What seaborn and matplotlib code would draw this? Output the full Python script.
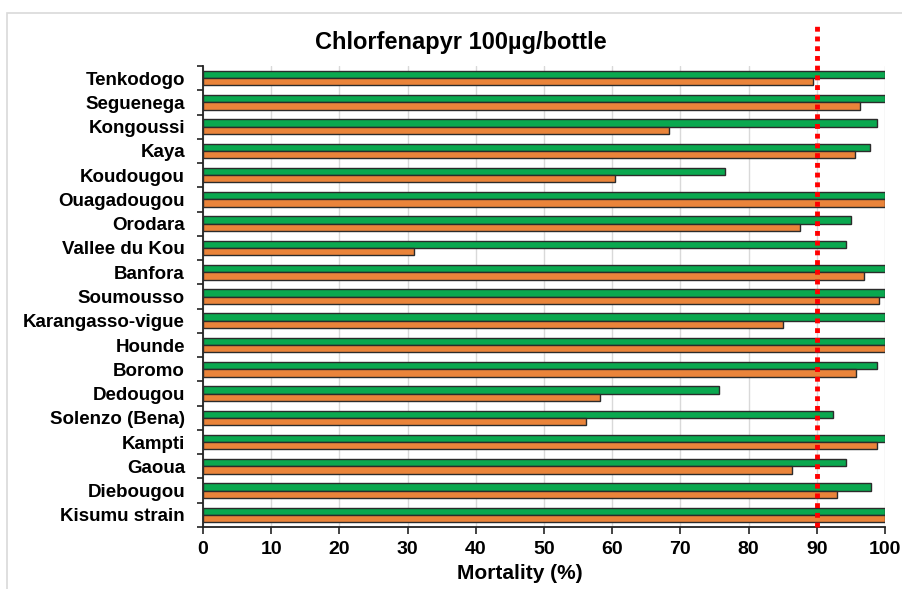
import matplotlib
matplotlib.use("Agg")
import matplotlib.pyplot as plt
import seaborn as sns
import pandas as pd
from matplotlib.patches import Rectangle
from matplotlib.ticker import FixedLocator

sites = ["Tenkodogo", "Seguenega", "Kongoussi", "Kaya", "Koudougou", "Ouagadougou",
         "Orodara", "Vallee du Kou", "Banfora", "Soumousso", "Karangasso-vigue",
         "Hounde", "Boromo", "Dedougou", "Solenzo (Bena)", "Kampti", "Gaoua",
         "Diebougou", "Kisumu strain"]
green_vals = [100, 100, 98.9, 97.8, 76.6, 100, 95.0, 94.3, 100, 100, 100,
              100, 98.9, 75.6, 92.4, 100, 94.3, 97.9, 100]
orange_vals = [89.4, 96.3, 68.3, 95.6, 60.4, 100, 87.5, 30.9, 96.9, 99.1, 85.1,
               100, 95.8, 58.2, 56.2, 98.9, 86.4, 93.0, 100]
series_names = ["Series 1", "Series 2"]
threshold = 90
x_ticks = list(range(0, 101, 10))
title = "Chlorfenapyr 100\u00b5g/bottle"
x_label = "Mortality (%)"

df = pd.DataFrame({
    "site": sites * 2,
    "mortality": green_vals + orange_vals,
    "series": [series_names[0]] * len(sites) + [series_names[1]] * len(sites),
})

sns.set_style("white")
plt.rcParams["font.family"] = ["Liberation Sans", "DejaVu Sans"]
plt.rcParams["text.color"] = "black"
plt.rcParams["axes.labelcolor"] = "black"
plt.rcParams["xtick.color"] = "black"
plt.rcParams["ytick.color"] = "black"

fig = plt.figure(figsize=(9.02, 5.89), dpi=100)
fig.patches.append(Rectangle((7 / 902, -0.01), 1.0, 1 - 13 / 589 + 0.01,
                             transform=fig.transFigure, fill=False,
                             edgecolor="#d9d9d9", linewidth=1.2))
ax = fig.add_axes([203 / 902, 1 - 527 / 589, (885 - 203) / 902, (527 - 66) / 589])

sns.barplot(data=df, y="site", x="mortality", hue="series", orient="h",
            palette=["#0aa84f", "#ea843a"], saturation=1, width=0.6,
            edgecolor="#2b2b2b", linewidth=1.0, legend=False, ax=ax, zorder=3)

ax.set_xlim(0, 100)
ax.set_ylim(len(sites) - 0.5, -0.5)
ax.set_xticks(x_ticks)
ax.set_xticklabels([str(t) for t in x_ticks], fontsize=14, fontweight="bold")
ax.set_yticks(range(len(sites)))
ax.set_yticklabels(sites, fontsize=13.5, fontweight="bold")
ax.yaxis.set_minor_locator(FixedLocator([i + 0.5 for i in range(-1, len(sites))]))
ax.tick_params(axis="y", which="major", length=0, pad=13)
ax.tick_params(axis="y", which="minor", length=4, width=1.2, color="#222222", left=True)
ax.tick_params(axis="x", which="major", length=5, width=1.2, color="#222222", bottom=True, pad=5)
ax.set_ylabel("")
ax.set_xlabel(x_label, fontsize=15, fontweight="bold")
ax.xaxis.set_label_coords((520 - 203) / 682, -(564 - 527) / 461)

ax.grid(axis="x", color="#d9d9d9", linewidth=1.0, zorder=0)
ax.set_axisbelow(True)
for s in ["top", "right"]:
    ax.spines[s].set_visible(False)
for s in ["left", "bottom"]:
    ax.spines[s].set_color("#222222")
    ax.spines[s].set_linewidth(1.3)

ax.axvline(threshold, ymin=0, ymax=1.095, color="#ff0000", linewidth=3.5,
           linestyle=(0, (1, 1)), clip_on=False, zorder=5)

fig.text(461 / 902, 1 - 43 / 589, title, ha="center", va="center",
         fontsize=17, fontweight="bold")

fig.savefig("out.png", dpi=100)
